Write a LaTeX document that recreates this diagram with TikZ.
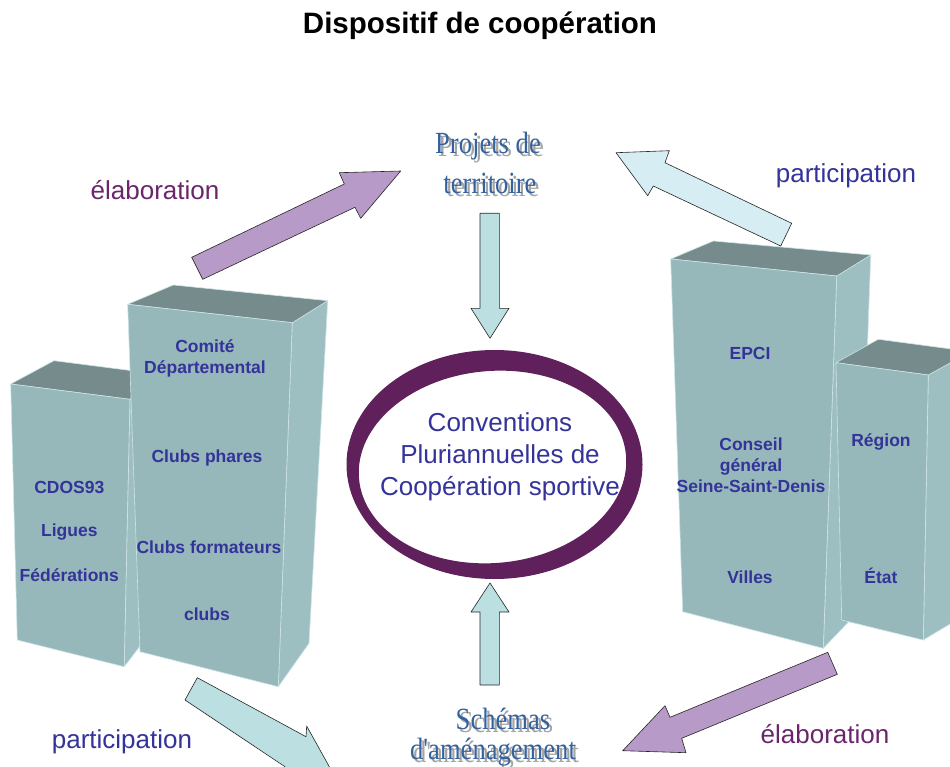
\documentclass[tikz,border=0pt]{standalone}
\usepackage{fontspec}
\usepackage{graphicx}
\setmainfont{Liberation Sans}
\newfontfamily\serifa{Liberation Serif}
\definecolor{boxfront}{RGB}{151,184,186}
\definecolor{boxtop}{RGB}{118,139,140}
\definecolor{boxside}{RGB}{158,191,193}
\definecolor{boxedge}{RGB}{205,228,230}
\definecolor{txtblue}{RGB}{51,51,153}
\definecolor{txtpurple}{RGB}{107,38,107}
\definecolor{lilac}{RGB}{183,154,200}
\definecolor{ltblue}{RGB}{188,223,226}
\definecolor{paleblue}{RGB}{213,237,243}
\definecolor{ringcol}{RGB}{96,32,92}
\definecolor{serifblue}{RGB}{52,98,158}
\definecolor{shadowgray}{RGB}{165,165,165}
\newcommand\shtext[1]{\makebox[0pt][l]{\hspace*{3pt}\raisebox{-3pt}[0pt][0pt]{\textcolor{shadowgray}{\scalebox{0.95}[1.1]{#1}}}}\scalebox{0.95}[1.1]{#1}}
\tikzset{
  frontface/.style={fill=boxfront, draw=boxedge, line width=0.6pt, line join=round},
  topface/.style={fill=boxtop, draw=boxedge, line width=0.6pt, line join=round},
  sideface/.style={fill=boxside, draw=boxedge, line width=0.6pt, line join=round},
  boxlbl/.style={font=\fontsize{17.5}{21}\selectfont\bfseries, text=txtblue, align=center, inner sep=0pt},
  lilacarrow/.style={fill=lilac, draw=black!85, line width=0.6pt, line join=round},
  bluearrow/.style={fill=ltblue, draw=black!85, line width=0.6pt, line join=round},
  palearrow/.style={fill=paleblue, draw=black!85, line width=0.6pt, line join=round},
  sidelbl/.style={font=\fontsize{26}{30}\selectfont, inner sep=0pt},
  serifline/.style={font=\serifa\fontsize{28}{34}\selectfont, text=serifblue, inner sep=0pt},
}
\begin{document}
\begin{tikzpicture}[x=1pt,y=-1pt]
\useasboundingbox (0,0) rectangle (950,767);
\fill[white] (0,0) rectangle (950,767);
\begin{scope}
\clip (0,0) rectangle (950,767);

% title
\node[font=\fontsize{29.5}{34}\selectfont\bfseries, inner sep=0pt] (title) at (480,26) {Dispositif de coopération};

% ---- left boxes ----
% box 1 (small)
\draw[topface] (10.7,384) -- (54,360.7) -- (173.3,376) -- (130,399.3) -- cycle;
\draw[frontface] (10.7,384) -- (130,399.3) -- (124.3,666.7) -- (17.3,640) -- cycle;
\draw[sideface] (130,399.3) -- (173.3,376) -- (160,620) -- (124.3,666.7) -- cycle;
% box 2 (tall)
\draw[sideface] (292.3,322.7) -- (327.7,300.7) -- (309,643.3) -- (278.3,686.7) -- cycle;
\draw[topface] (127.7,304.3) -- (173.3,285) -- (327.7,300.7) -- (292.3,322.7) -- cycle;
\draw[frontface] (127.7,304.3) -- (292.3,322.7) -- (278.3,686.7) -- (140,651.7) -- cycle;

\node[boxlbl] (cdos) at (69.3,487) {CDOS93};
\node[boxlbl] (ligues) at (69.3,532) {Ligues};
\node[boxlbl] (feder) at (69.3,575) {Fédérations};
\node[boxlbl] (comite) at (205,358) {Comité\\Départemental};
\node[boxlbl] (phares) at (207,458) {Clubs phares};
\node[boxlbl] (format) at (209,547) {Clubs formateurs};
\node[boxlbl] (clubs) at (207,614) {clubs};

% ---- right boxes ----
% box 3 (tall)
\draw[sideface] (836.7,276) -- (870.7,255) -- (858,612) -- (823.3,648.3) -- cycle;
\draw[topface] (670.7,259) -- (713.3,241) -- (870.7,255) -- (836.7,276) -- cycle;
\draw[frontface] (670.7,259) -- (836.7,276) -- (823.3,648.3) -- (682.7,611.7) -- cycle;
% box 4 (small)
\draw[sideface] (928.3,375) -- (970.6,351.6) -- (965,615) -- (923.3,640) -- cycle;
\draw[topface] (836,362.7) -- (878.3,339.3) -- (970.6,351.6) -- (928.3,375) -- cycle;
\draw[frontface] (836,362.7) -- (928.3,375) -- (923.3,640) -- (841.7,620) -- cycle;

\node[boxlbl] (epci) at (750,353) {EPCI};
\node[boxlbl] (cg) at (751,465) {Conseil\\général\\Seine-Saint-Denis};
\node[boxlbl] (villes) at (750,577) {Villes};
\node[boxlbl] (region) at (881,442) {Région};
\node[boxlbl] (etat) at (881,576) {État};

% ---- central ring ----
\fill[ringcol, even odd rule] (494.5,464.5) ellipse [x radius=148, y radius=114.5]
      (492.5,467) ellipse [x radius=134, y radius=96, rotate=5];
\node[font=\fontsize{26}{32}\selectfont, text=txtblue, align=center, inner sep=0pt] (conv) at (500,457)
  {Conventions\\Pluriannuelles de\\Coopération sportive};

% ---- serif titles with shadow ----
\node[serifline] (projA) at (488,146) {\shtext{Projets de}};
\node[serifline] (projB) at (490,183) {\shtext{territoire}};
\node[serifline] (schA) at (503,719) {\shtext{Schémas}};
\node[serifline] (schB) at (493,752) {\shtext{d'aménagement}};

% ---- block arrows ----
% down arrow Projets -> Conventions
\draw[bluearrow] (480,213.3) -- (499.3,213.3) -- (499.3,308.3) -- (509,308.3) -- (490,338.3)
   -- (471,308.3) -- (480,308.3) -- cycle;
% up arrow Schemas -> Conventions
\draw[bluearrow] (480,685) -- (499.3,685) -- (499.3,612) -- (509,612) -- (490,583)
   -- (471,612) -- (480,612) -- cycle;
% upper left (elaboration)
\draw[lilacarrow] (191.7,257.3) -- (344.3,184) -- (339.3,172.7) -- (400.7,171)
   -- (360.7,218.3) -- (355,207.3) -- (202.7,279.3) -- cycle;
% upper right (participation)
\draw[palearrow] (616,152.7) -- (669.3,150.7) -- (665,162.7) -- (791.7,223.3)
   -- (780.7,246) -- (653.3,186) -- (647.7,195.7) -- cycle;
% lower left (participation)
\draw[bluearrow] (197.3,677.7) -- (306,736.7) -- (306.7,726) -- (345,795)
   -- (270,790) -- (285,766.7) -- (185,700) -- cycle;
% lower right (elaboration)
\draw[lilacarrow] (827.7,652.3) -- (670,717.3) -- (665,705.7) -- (622.7,750.7)
   -- (686,752.7) -- (681.7,738.3) -- (837.3,674.3) -- cycle;

% ---- labels ----
\node[sidelbl, text=txtpurple] (elabA) at (155,190) {élaboration};
\node[sidelbl, text=txtblue] (partA) at (846,176) {participation};
\node[sidelbl, text=txtblue] (partB) at (122,742) {participation};
\node[sidelbl, text=txtpurple] (elabB) at (825,734) {élaboration};
\end{scope}
\end{tikzpicture}
\end{document}
